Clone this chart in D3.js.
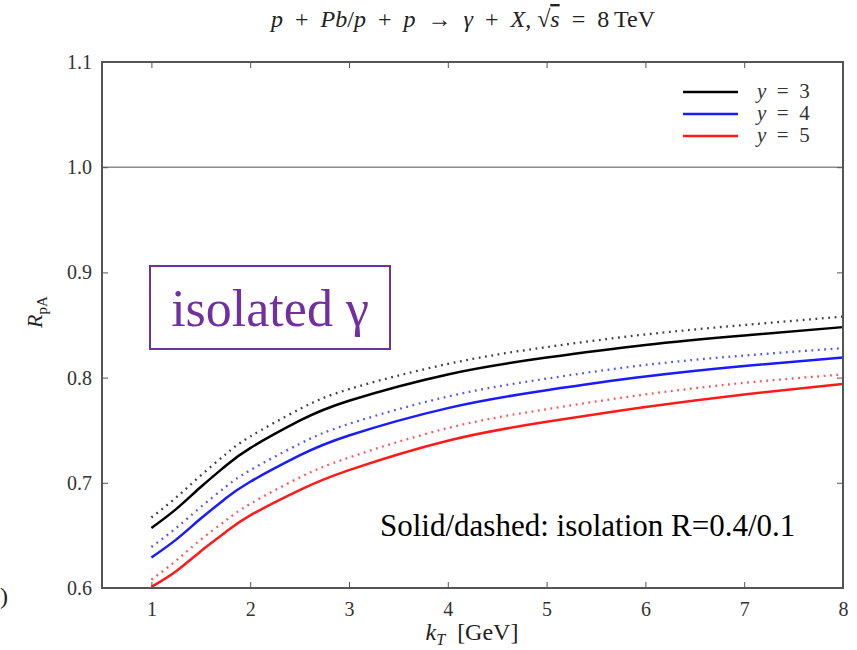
<!DOCTYPE html>
<html><head><meta charset="utf-8">
<script src="https://cdn.jsdelivr.net/npm/d3@7"></script>
<style>body{margin:0;background:#fff;} svg{display:block;}</style>
</head><body>
<svg id="chart" width="857" height="650"></svg>
<script>
const kT = [1, 1.25, 1.5, 1.75, 2, 2.5, 3, 4, 5, 6, 7, 8];
const y3_solid  = [0.657, 0.675, 0.696, 0.716, 0.733, 0.759, 0.778, 0.803, 0.819, 0.831, 0.840, 0.848];
const y3_dotted = [0.667, 0.686, 0.707, 0.727, 0.744, 0.770, 0.789, 0.813, 0.829, 0.841, 0.850, 0.858];
const y4_solid  = [0.629, 0.646, 0.666, 0.685, 0.701, 0.726, 0.745, 0.771, 0.788, 0.801, 0.811, 0.819];
const y4_dotted = [0.639, 0.657, 0.677, 0.696, 0.712, 0.737, 0.756, 0.782, 0.799, 0.812, 0.821, 0.828];
const y5_solid  = [0.601, 0.616, 0.635, 0.653, 0.669, 0.693, 0.712, 0.740, 0.758, 0.772, 0.784, 0.794];
const y5_dotted = [0.608, 0.626, 0.646, 0.664, 0.680, 0.705, 0.724, 0.752, 0.770, 0.784, 0.795, 0.803];
const xTicks = [1, 2, 3, 4, 5, 6, 7, 8];
const yTicks = [0.6, 0.7, 0.8, 0.9, 1.0, 1.1];
const legendLabels = ["3", "4", "5"];
const colors = ["#000000", "#1a1aff", "#ff1a1a"];

const svg = d3.select("#chart");
const L = 102, R = 843, T = 62, B = 588;
const x = d3.scaleLinear().domain([0.5, 8]).range([L, R]);
const y = d3.scaleLinear().domain([0.6, 1.1]).range([B, T]);
const serif = "'Liberation Serif', 'Times New Roman', serif";
const en = "\u2002";

// reference line at 1.0
svg.append("line").attr("x1", L).attr("x2", R).attr("y1", y(1.0)).attr("y2", y(1.0))
  .attr("stroke", "#8a8a8a").attr("stroke-width", 1.6);

const line = d3.line().x((d, i) => x(kT[i])).y(d => y(d)).curve(d3.curveNatural);
const series = [
  {v: y3_dotted, c: colors[0], dot: true},
  {v: y3_solid,  c: colors[0], dot: false},
  {v: y4_dotted, c: colors[1], dot: true},
  {v: y4_solid,  c: colors[1], dot: false},
  {v: y5_dotted, c: colors[2], dot: true},
  {v: y5_solid,  c: colors[2], dot: false}
];
series.forEach(s => {
  svg.append("path").attr("d", line(s.v)).attr("fill", "none")
    .attr("stroke", s.c).attr("stroke-width", s.dot ? 2.3 : 2.5)
    .attr("stroke-dasharray", s.dot ? "1.8,4.6" : null)
    .attr("opacity", s.dot ? 0.75 : 1);
});

// axes with inward ticks
const axB = d3.axisBottom(x).tickValues(xTicks).tickSize(-6).tickPadding(14).tickFormat(d3.format("d"));
const axT = d3.axisTop(x).tickValues(xTicks).tickSize(-6).tickFormat("");
const axL = d3.axisLeft(y).tickValues(yTicks).tickSize(-6).tickPadding(10).tickFormat(d3.format(".1f"));
const axR = d3.axisRight(y).tickValues(yTicks).tickSize(-6).tickFormat("");
[[axB, `translate(0,${B})`], [axT, `translate(0,${T})`], [axL, `translate(${L},0)`], [axR, `translate(${R},0)`]]
  .forEach(([ax, tr]) => {
    const g = svg.append("g").attr("transform", tr).call(ax);
    g.attr("font-family", serif);
    g.select(".domain").remove();
    g.selectAll(".tick line").attr("stroke", "#555").attr("stroke-width", 1);
    g.selectAll("text").attr("font-family", serif).attr("font-size", 20).attr("fill", "#333");
  });
svg.append("rect").attr("x", L).attr("y", T).attr("width", R - L).attr("height", B - T)
  .attr("fill", "none").attr("stroke", "#555").attr("stroke-width", 2);

// title
const title = svg.append("text").attr("x", 463).attr("y", 27).attr("text-anchor", "middle")
  .attr("font-family", serif).attr("font-size", 24).attr("fill", "#222");
title.append("tspan").attr("font-style", "italic").text("p");
title.append("tspan").text(en + "+" + en);
title.append("tspan").attr("font-style", "italic").text("Pb");
title.append("tspan").text("/");
title.append("tspan").attr("font-style", "italic").text("p");
title.append("tspan").text(en + "+" + en);
title.append("tspan").attr("font-style", "italic").text("p");
title.append("tspan").text(en + "→" + en);
title.append("tspan").attr("font-style", "italic").text("γ");
title.append("tspan").text(en + "+" + en);
title.append("tspan").attr("font-style", "italic").text("X");
title.append("tspan").text(", √");
title.append("tspan").attr("font-style", "italic").attr("text-decoration", "overline").text("s");
title.append("tspan").text(en + "=" + en + "8\u2009TeV");

// x label
const xl = svg.append("text").attr("x", 472).attr("y", 640).attr("text-anchor", "middle")
  .attr("font-family", serif).attr("font-size", 24).attr("fill", "#222");
xl.append("tspan").attr("font-style", "italic").text("k");
xl.append("tspan").attr("font-style", "italic").attr("font-size", 16).attr("dy", 5).text("T");
xl.append("tspan").attr("dy", -5).text(en + "[GeV]");

// y label
const yl = svg.append("text").attr("transform", "translate(42,312) rotate(-90)").attr("text-anchor", "middle")
  .attr("font-family", serif).attr("font-size", 22).attr("fill", "#222");
yl.append("tspan").attr("font-style", "italic").text("R");
yl.append("tspan").attr("font-size", 15).attr("dy", 5).text("pA");

// legend
const legY = [92, 114, 136];
legendLabels.forEach((lab, i) => {
  svg.append("line").attr("x1", 683).attr("x2", 738).attr("y1", legY[i]).attr("y2", legY[i])
    .attr("stroke", colors[i]).attr("stroke-width", 2.5);
  const t = svg.append("text").attr("x", 757).attr("y", legY[i] + 6)
    .attr("font-family", serif).attr("font-size", 21).attr("fill", "#333");
  t.append("tspan").attr("font-style", "italic").text("y");
  t.append("tspan").text(en + "=" + en + lab);
});

// annotation box
svg.append("rect").attr("x", 150).attr("y", 266).attr("width", 240).attr("height", 83)
  .attr("fill", "none").attr("stroke", "#7030a0").attr("stroke-width", 2);
svg.append("text").attr("x", 270).attr("y", 326).attr("text-anchor", "middle")
  .attr("font-family", serif).attr("font-size", 52).attr("fill", "#7030a0").text("isolated γ");

svg.append("text").attr("x", 380).attr("y", 536)
  .attr("font-family", serif).attr("font-size", 31).attr("fill", "#000")
  .text("Solid/dashed: isolation R=0.4/0.1");

// stray glyph at left edge
svg.append("text").attr("x", 0).attr("y", 604).attr("font-family", serif).attr("font-size", 24)
  .attr("fill", "#222").text(")");
</script>
</body></html>
